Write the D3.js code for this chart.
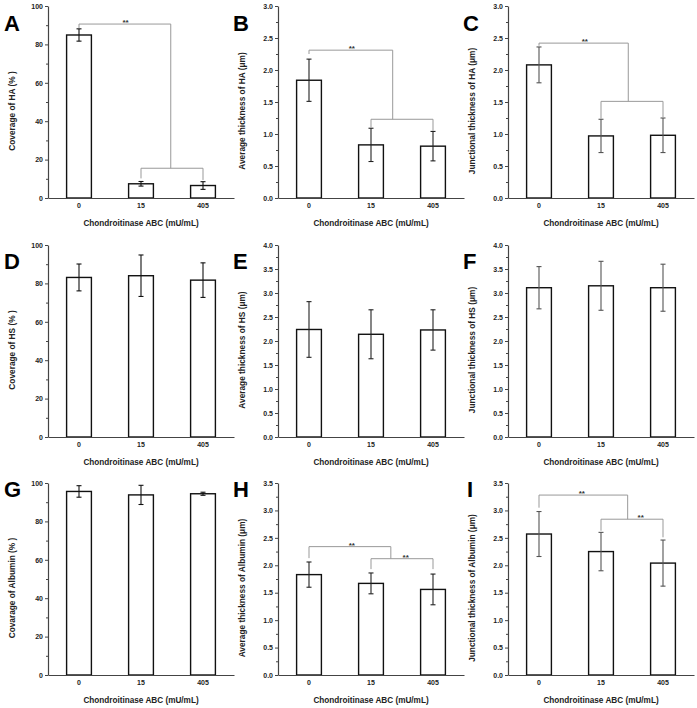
<!DOCTYPE html>
<html><head><meta charset="utf-8">
<script src="https://cdn.jsdelivr.net/npm/d3@7"></script>
<style>
html,body{margin:0;padding:0;background:#fff;}
svg{display:block;}
text{font-family:"Liberation Sans",Arial,sans-serif;}
</style></head>
<body>
<svg id="chart" width="697" height="708"></svg>
<script>
// ---------- data ----------
const categories = ["0", "15", "405"];
const xTitle = "Chondroitinase ABC (mU/mL)";

const coverageHA = [84.9, 7.4, 6.5];
const coverageHAErr = [3.2, 1.2, 2.0];
const avgHA = [1.84, 0.83, 0.81];
const avgHAErr = [0.33, 0.26, 0.23];
const juncHA = [2.08, 0.97, 0.98];
const juncHAErr = [0.28, 0.26, 0.27];

const coverageHS = [83.1, 84.0, 81.7];
const coverageHSErr = [7.0, 10.8, 9.0];
const avgHS = [2.24, 2.14, 2.23];
const avgHSErr = [0.58, 0.51, 0.42];
const juncHS = [3.11, 3.15, 3.11];
const juncHSErr = [0.44, 0.51, 0.49];

const coverageAlb = [95.6, 93.8, 94.4];
const coverageAlbErr = [3.0, 5.0, 0.8];
const avgAlb = [1.83, 1.67, 1.56];
const avgAlbErr = [0.23, 0.19, 0.28];
const juncAlb = [2.57, 2.25, 2.04];
const juncAlbErr = [0.41, 0.35, 0.42];

const ticksPct = [0, 20, 40, 60, 80, 100];
const ticks30 = [0, 0.5, 1.0, 1.5, 2.0, 2.5, 3.0];
const ticks35 = [0, 0.5, 1.0, 1.5, 2.0, 2.5, 3.0, 3.5];
const ticks40 = [0, 0.5, 1.0, 1.5, 2.0, 2.5, 3.0, 3.5, 4.0];

// significance brackets: x in category-index units, y in data units
const bracketsA = [
  {x1: 0, x2: 1.48, top: 90.6, end1: 88.4, end2: 15.5, star: 0.75},
  {x1: 1, x2: 2, top: 15.5, end1: 10.2, end2: 9.4, star: null}
];
const bracketsB = [
  {x1: 0, x2: 1.35, top: 2.31, end1: 2.25, end2: 1.23, star: 0.69},
  {x1: 1, x2: 2, top: 1.23, end1: 1.10, end2: 1.05, star: null}
];
const bracketsC = [
  {x1: 0, x2: 1.44, top: 2.42, end1: 2.38, end2: 1.51, star: 0.74},
  {x1: 1, x2: 2, top: 1.51, end1: 1.24, end2: 1.26, star: null}
];
const bracketsH = [
  {x1: 0, x2: 1.32, top: 2.34, end1: 2.13, end2: 2.12, star: 0.69},
  {x1: 1, x2: 2, top: 2.12, end1: 1.93, end2: 1.93, star: 1.56}
];
const bracketsI = [
  {x1: 0, x2: 1.43, top: 3.28, end1: 3.05, end2: 2.84, star: 0.69},
  {x1: 1, x2: 2, top: 2.84, end1: 2.63, end2: 2.51, star: 1.64}
];

// ---------- layout ----------
const colX = [48, 278, 508];
const rowY = [6, 245, 483];
const plotH = 192, plotW = 186;
const letterPos = [[4, 31], [233, 31], [463, 31], [4, 269], [233, 269], [463, 269], [4, 497], [233, 497], [467, 497]];

const panels = [
  {letter: "A", col: 0, row: 0, v: coverageHA, e: coverageHAErr, max: 100, ticks: ticksPct, minor: 10, fmt: d3.format("d"), title: "Coverage of HA (% )", errColor: "#111", br: bracketsA},
  {letter: "B", col: 1, row: 0, v: avgHA, e: avgHAErr, max: 3, ticks: ticks30, minor: 0.25, fmt: d3.format(".1f"), title: "Average thickness of HA (μm)", errColor: "#222", br: bracketsB},
  {letter: "C", col: 2, row: 0, v: juncHA, e: juncHAErr, max: 3, ticks: ticks30, minor: 0.25, fmt: d3.format(".1f"), title: "Junctional thickness of HA (μm)", errColor: "#555", br: bracketsC},
  {letter: "D", col: 0, row: 1, v: coverageHS, e: coverageHSErr, max: 100, ticks: ticksPct, minor: 10, fmt: d3.format("d"), title: "Coverage of HS (% )", errColor: "#111", br: []},
  {letter: "E", col: 1, row: 1, v: avgHS, e: avgHSErr, max: 4, ticks: ticks40, minor: 0.25, fmt: d3.format(".1f"), title: "Average thickness of HS (μm)", errColor: "#222", br: []},
  {letter: "F", col: 2, row: 1, v: juncHS, e: juncHSErr, max: 4, ticks: ticks40, minor: 0.25, fmt: d3.format(".1f"), title: "Junctional thickness of HS (μm)", errColor: "#555", br: []},
  {letter: "G", col: 0, row: 2, v: coverageAlb, e: coverageAlbErr, max: 100, ticks: ticksPct, minor: 10, fmt: d3.format("d"), title: "Covarage of Albumin (% )", errColor: "#111", br: []},
  {letter: "H", col: 1, row: 2, v: avgAlb, e: avgAlbErr, max: 3.5, ticks: ticks35, minor: 0.25, fmt: d3.format(".1f"), title: "Average thickness of  Albumin (μm)", errColor: "#222", br: bracketsH},
  {letter: "I", col: 2, row: 2, v: juncAlb, e: juncAlbErr, max: 3.5, ticks: ticks35, minor: 0.25, fmt: d3.format(".1f"), title: "Junctional thickness of  Albumin (μm)", errColor: "#555", br: bracketsI}
];

const svg = d3.select("#chart");
const axisColor = "#444";

panels.forEach((p, idx) => {
  const x0 = colX[p.col], top = rowY[p.row], bottom = top + plotH;
  const x = d3.scaleBand().domain(categories).range([x0, x0 + plotW]).paddingInner(0.6).paddingOuter(0.3);
  const y = d3.scaleLinear().domain([0, p.max]).range([bottom, top]);
  const step = x.step(), bw = x.bandwidth();
  const xi = i => x(categories[0]) + bw / 2 + i * step;
  const g = svg.append("g");

  // minor ticks
  const minorVals = d3.range(0, p.max + 1e-9, p.minor).filter(v => !p.ticks.some(t => Math.abs(t - v) < 1e-9));
  const minorAxis = g.append("g").attr("transform", `translate(${x0},0)`)
    .call(d3.axisLeft(y).tickValues(minorVals).tickSize(2).tickFormat(""));
  minorAxis.select(".domain").remove();
  minorAxis.selectAll("line").attr("stroke", axisColor);

  // y axis
  const ya = g.append("g").attr("transform", `translate(${x0},0)`)
    .call(d3.axisLeft(y).tickValues(p.ticks).tickSize(3).tickSizeOuter(0).tickPadding(2).tickFormat(p.fmt));
  ya.select(".domain").attr("stroke", axisColor).attr("stroke-width", 1.2);
  ya.selectAll("line").attr("stroke", axisColor);
  ya.selectAll("text").attr("font-size", 7).attr("font-weight", "bold").attr("fill", "#222")
    .attr("font-family", "'Liberation Sans', Arial, sans-serif");

  // bars
  g.selectAll("rect.bar").data(categories).join("rect")
    .attr("class", "bar")
    .attr("x", d => x(d)).attr("width", bw)
    .attr("y", (d, i) => y(p.v[i])).attr("height", (d, i) => bottom - y(p.v[i]))
    .attr("fill", "#fff").attr("stroke", "#111").attr("stroke-width", 1.4);

  // error bars
  const eg = g.append("g").attr("stroke", p.errColor).attr("stroke-width", 1.1);
  categories.forEach((c, i) => {
    const cx = x(c) + bw / 2;
    const yt = y(p.v[i] + p.e[i]), yb = y(p.v[i] - p.e[i]);
    eg.append("line").attr("x1", cx).attr("x2", cx).attr("y1", yt).attr("y2", yb);
    eg.append("line").attr("x1", cx - 2.5).attr("x2", cx + 2.5).attr("y1", yt).attr("y2", yt);
    eg.append("line").attr("x1", cx - 2.5).attr("x2", cx + 2.5).attr("y1", yb).attr("y2", yb);
  });

  // x axis
  const xa = g.append("g").attr("transform", `translate(0,${bottom})`)
    .call(d3.axisBottom(x).tickSize(0).tickSizeOuter(0).tickPadding(5));
  xa.select(".domain").attr("stroke", axisColor).attr("stroke-width", 1.2);
  xa.selectAll("text").attr("font-size", 7).attr("font-weight", "bold").attr("fill", "#222")
    .attr("font-family", "'Liberation Sans', Arial, sans-serif");

  // x title
  g.append("text").attr("x", xi(1)).attr("y", bottom + 28).attr("text-anchor", "middle")
    .attr("font-size", 8.2).attr("font-weight", "bold").attr("fill", "#222").text(xTitle);

  // y title
  const tx = x0 - 33, ty = top + plotH / 2 + 9;
  g.append("text").attr("transform", `translate(${tx},${ty}) rotate(-90)`).attr("text-anchor", "middle")
    .attr("font-size", 8.3).attr("font-weight", "bold").attr("fill", "#222").text(p.title);

  // brackets
  p.br.forEach(b => {
    const bx1 = xi(b.x1), bx2 = xi(b.x2), byt = y(b.top);
    g.append("path")
      .attr("d", `M${bx1},${y(b.end1)}V${byt}H${bx2}V${y(b.end2)}`)
      .attr("fill", "none").attr("stroke", "#999").attr("stroke-width", 1);
    if (b.star !== null) {
      g.append("text").attr("x", xi(b.star)).attr("y", byt + 1).attr("text-anchor", "middle")
        .attr("font-size", 8).attr("font-weight", "bold").attr("fill", "#333").text("**");
    }
  });

  // panel letter
  svg.append("text").attr("x", letterPos[idx][0]).attr("y", letterPos[idx][1])
    .attr("font-size", 22).attr("font-weight", "bold").attr("fill", "#000").text(p.letter);
});
</script>
</body></html>
